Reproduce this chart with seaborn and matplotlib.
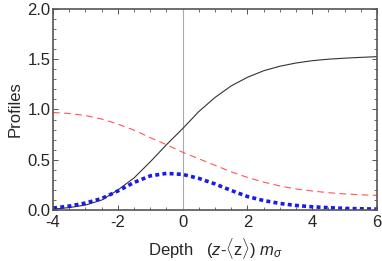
import numpy as np
import pandas as pd
import matplotlib
matplotlib.use("Agg")
import matplotlib.pyplot as plt
import seaborn as sns
from matplotlib.ticker import MultipleLocator

# values, every 0.5 in depth
depth = [-4.0, -3.5, -3.0, -2.5, -2.0, -1.5, -1.0, -0.5, 0.0, 0.5, 1.0,
         1.5, 2.0, 2.5, 3.0, 3.5, 4.0, 4.5, 5.0, 5.5, 6.0]
solid = [0.01, 0.025, 0.05, 0.10, 0.20, 0.32, 0.48, 0.65, 0.81, 0.98, 1.12,
         1.235, 1.32, 1.385, 1.43, 1.462, 1.485, 1.50, 1.51, 1.518, 1.525]
dashed = [0.97, 0.96, 0.94, 0.905, 0.855, 0.795, 0.72, 0.65, 0.575, 0.51, 0.445,
          0.38, 0.325, 0.278, 0.24, 0.21, 0.19, 0.173, 0.161, 0.152, 0.146]
dotted = [0.02, 0.04, 0.07, 0.115, 0.19, 0.275, 0.34, 0.365, 0.355, 0.315, 0.26,
          0.195, 0.135, 0.095, 0.066, 0.046, 0.033, 0.024, 0.017, 0.013, 0.01]

df = pd.DataFrame({"depth": depth, "solid": solid, "dashed": dashed, "dotted": dotted})

sns.set_style("ticks")
plt.rcParams["font.family"] = ["Liberation Sans", "DejaVu Sans"]
plt.rcParams["mathtext.fontset"] = "custom"
plt.rcParams["mathtext.rm"] = "Liberation Sans"
plt.rcParams["mathtext.it"] = "Liberation Sans:italic"

fig, ax = plt.subplots(figsize=(3.82, 2.61), dpi=100)
fig.subplots_adjust(left=0.139, right=0.987, top=0.966, bottom=0.195)

ax.axvline(0, color="#aaaaaa", lw=0.8, zorder=1)
sns.lineplot(data=df, x="depth", y="solid", ax=ax, color="#333333", lw=0.8)
sns.lineplot(data=df, x="depth", y="dashed", ax=ax, color="#ff5555", lw=0.8,
             linestyle=(0, (6, 4)))
sns.lineplot(data=df, x="depth", y="dotted", ax=ax, color="#1a1aee", lw=2.6,
             linestyle=(0, (1.1, 0.9)))

ax.set_xlim(-4, 6)
ax.set_ylim(0, 2)
ax.xaxis.set_major_locator(MultipleLocator(2))
ax.xaxis.set_minor_locator(MultipleLocator(0.5))
ax.yaxis.set_major_locator(MultipleLocator(0.5))
ax.yaxis.set_minor_locator(MultipleLocator(0.1))
ax.set_xticks([-4, -2, 0, 2, 4, 6])
ax.set_xticklabels(["-4", "-2", "0", "2", "4", "6"])
ax.tick_params(which="both", direction="in", top=True, right=True, color="#555555",
               labelsize=12, pad=2)
ax.tick_params(axis="x", which="major", pad=3.5)
ax.tick_params(which="major", length=3.5, width=0.7)
ax.tick_params(which="minor", length=2, width=0.6)
for s in ax.spines.values():
    s.set_color("#555555")
    s.set_linewidth(1.2)

ax.set_xlabel(r"Depth   ($z$-$\langle\mathrm{z}\rangle$) $m_{\sigma}$", fontsize=12, labelpad=4)
ax.set_ylabel("Profiles", fontsize=12, labelpad=3)

fig.savefig("out.png", dpi=100)
